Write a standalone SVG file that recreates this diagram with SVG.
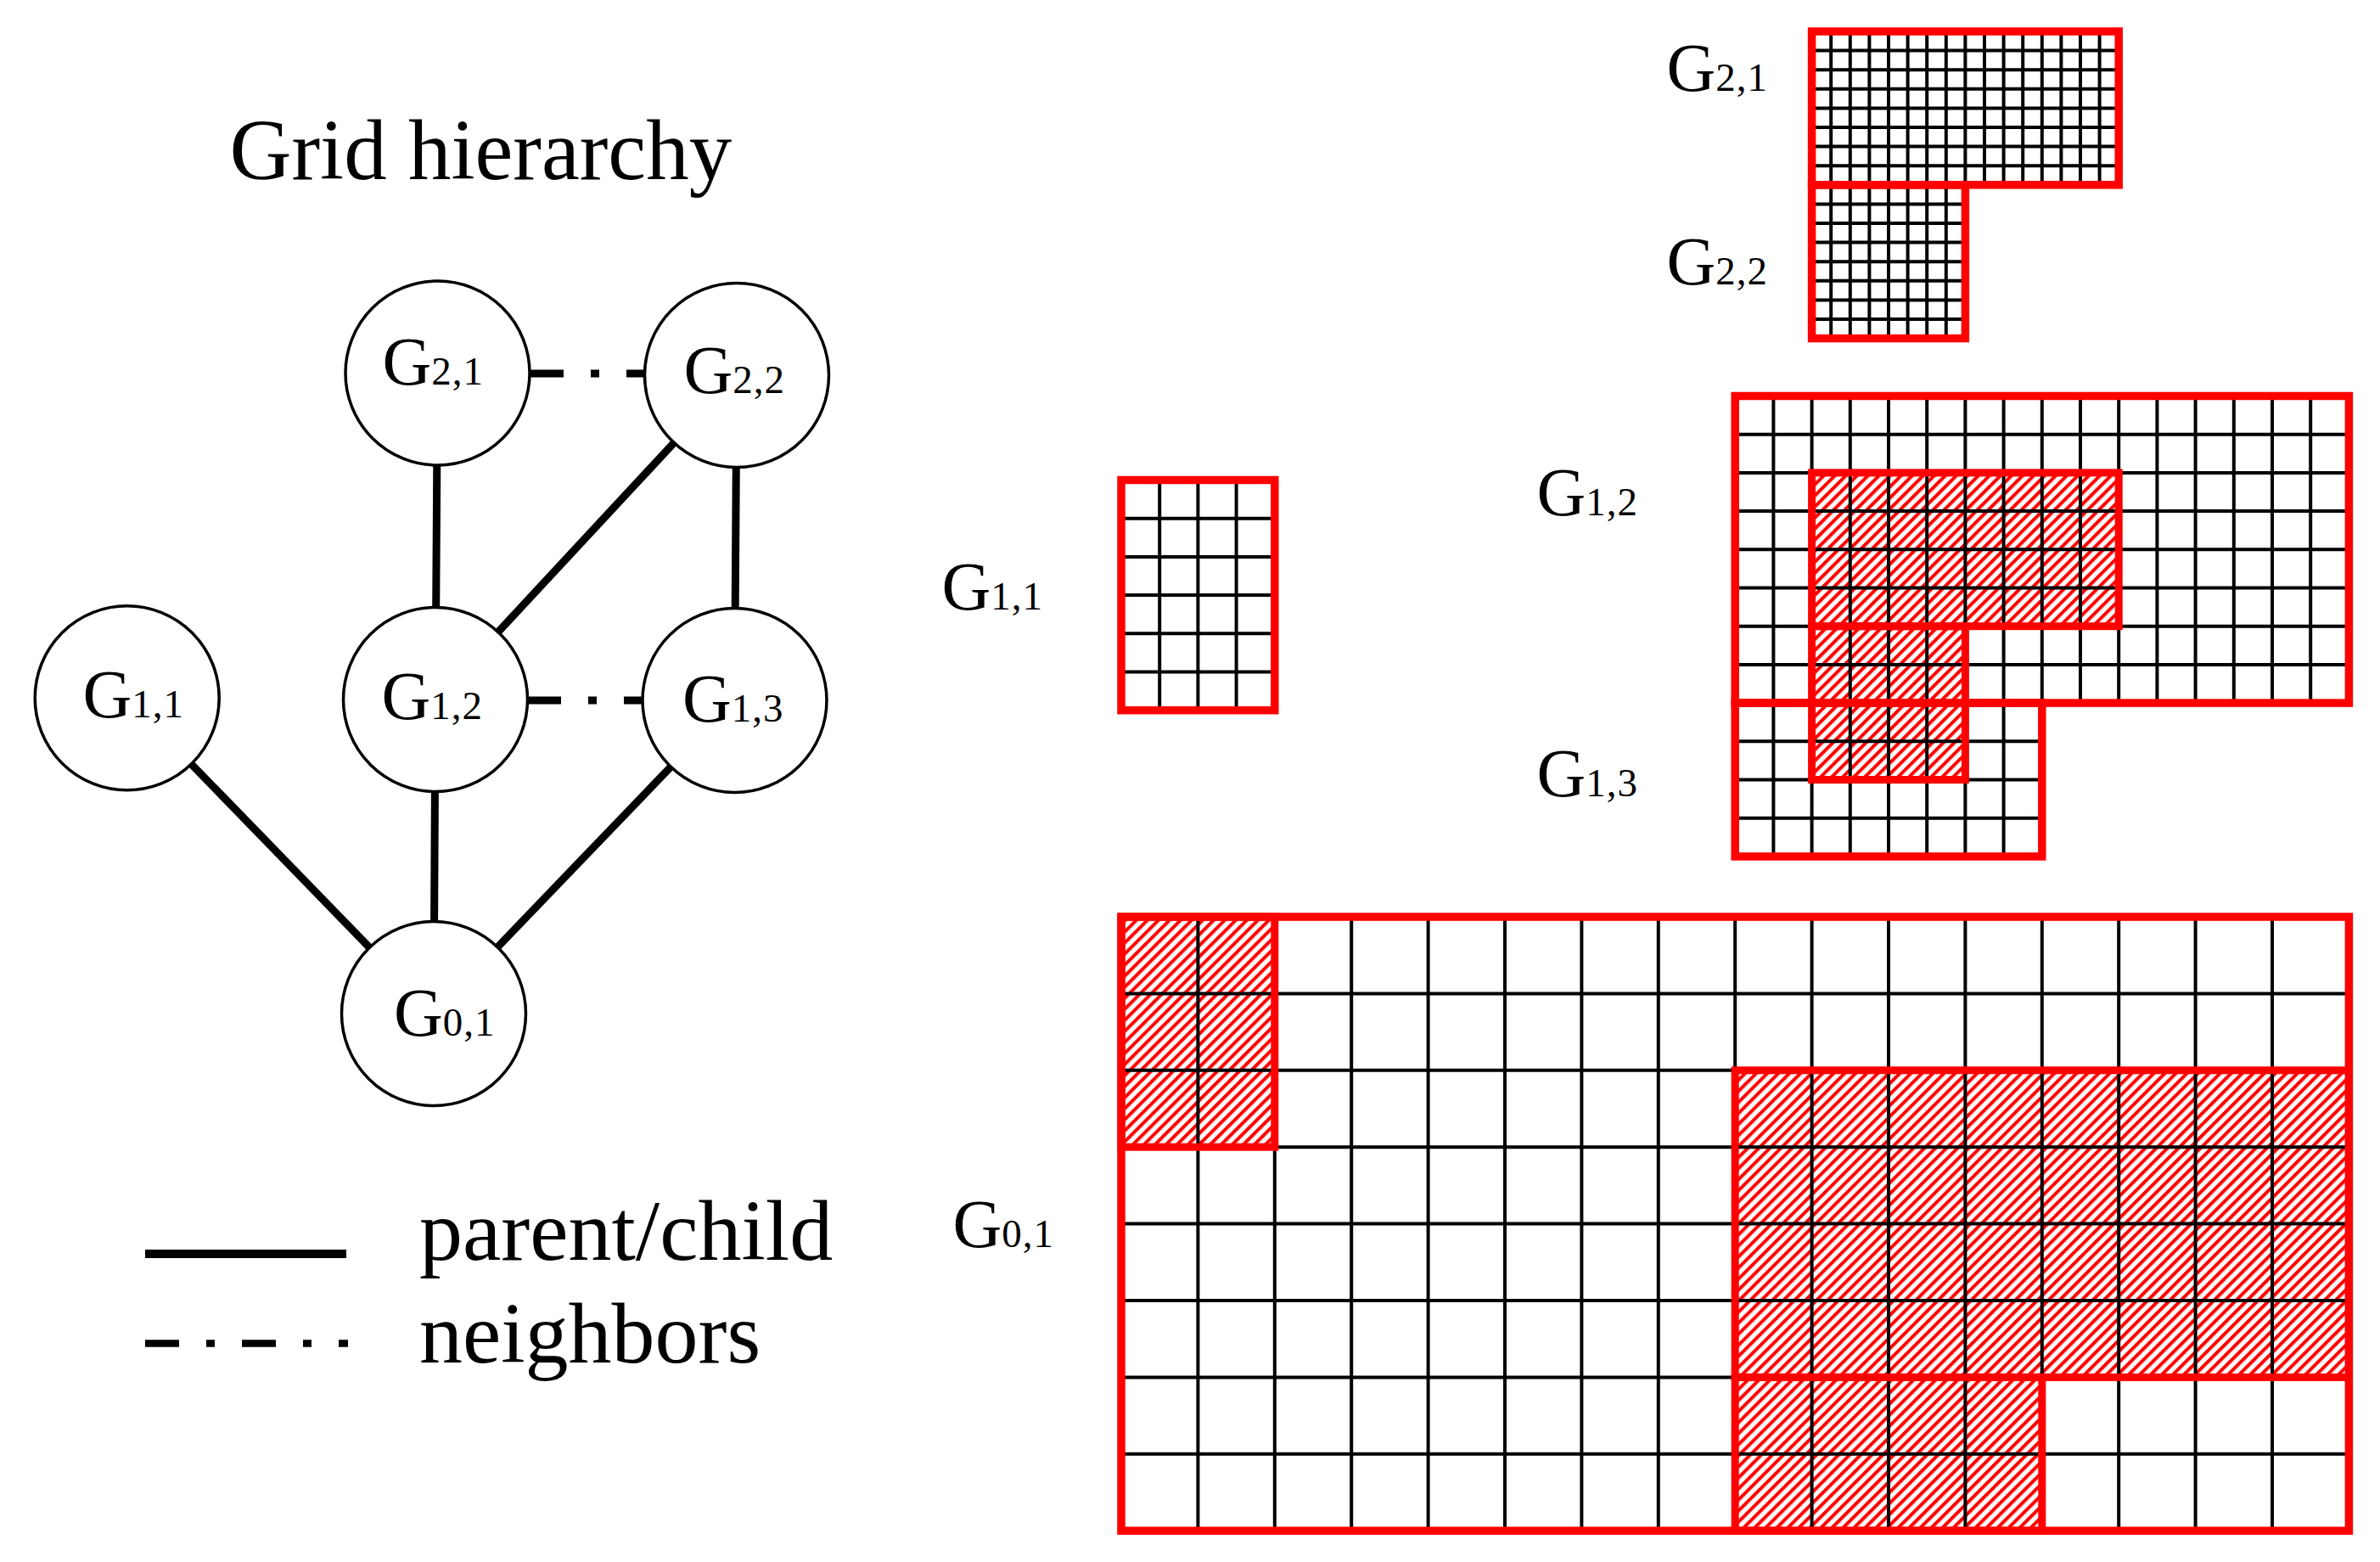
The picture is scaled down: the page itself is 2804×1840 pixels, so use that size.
<svg xmlns="http://www.w3.org/2000/svg" width="2804" height="1840" viewBox="0 0 2804 1840">
<defs>
<pattern id="hatch" patternUnits="userSpaceOnUse" width="9.2" height="9.2" patternTransform="rotate(45)">
<rect x="0" y="0" width="4" height="9.2" fill="#ff0000"/>
</pattern>
<style>
text{font-family:"Liberation Serif","Times New Roman",serif;fill:#000}
.title{font-size:101px}
.legend{font-size:102px}
.lab{font-size:80px}
.sub{font-size:47px;letter-spacing:1px}
.node{fill:#fff;stroke:#000;stroke-width:3.5}
.edge{stroke:#000;stroke-width:9;fill:none}
.nbr{stroke:#000;stroke-width:9;fill:none;stroke-dasharray:40 32 10 32}
.grid{stroke:#000;stroke-width:4;fill:none}
.border{stroke:#ff0000;stroke-width:9.5;fill:none}
.hbox{stroke:#ff0000;stroke-width:9;fill:none}
.hatch{fill:url(#hatch);stroke:none}
</style>
</defs>
<rect width="2804" height="1840" fill="#fff"/>

<text class="title" x="270.5" y="211">Grid hierarchy</text>

<g id="connectors">
<line class="edge" x1="515.5" y1="439.5" x2="513" y2="824"/>
<line class="edge" x1="868" y1="442" x2="513" y2="824"/>
<line class="edge" x1="868" y1="442" x2="865.5" y2="825"/>
<line class="edge" x1="149.7" y1="822.2" x2="511" y2="1194"/>
<line class="edge" x1="513" y1="824" x2="511" y2="1194"/>
<line class="edge" x1="865.5" y1="825" x2="511" y2="1194"/>
<line class="nbr" x1="624" y1="440" x2="760" y2="440"/>
<line class="nbr" x1="621" y1="825" x2="757.5" y2="825"/>
</g>

<g id="node-G21">
<circle class="node" cx="515.5" cy="439.5" r="108.5"/>
<text class="lab" x="450.5" y="453">G<tspan class="sub">2,1</tspan></text>
</g>
<g id="node-G22">
<circle class="node" cx="868" cy="442" r="108.5"/>
<text class="lab" x="805.5" y="463">G<tspan class="sub">2,2</tspan></text>
</g>
<g id="node-G11">
<circle class="node" cx="149.7" cy="822.2" r="108.5"/>
<text class="lab" x="97.5" y="845">G<tspan class="sub">1,1</tspan></text>
</g>
<g id="node-G12">
<circle class="node" cx="513" cy="824" r="108.5"/>
<text class="lab" x="449.5" y="847">G<tspan class="sub">1,2</tspan></text>
</g>
<g id="node-G13">
<circle class="node" cx="865.5" cy="825" r="108.5"/>
<text class="lab" x="804" y="850">G<tspan class="sub">1,3</tspan></text>
</g>
<g id="node-G01">
<circle class="node" cx="511" cy="1194" r="108.5"/>
<text class="lab" x="464" y="1220">G<tspan class="sub">0,1</tspan></text>
</g>

<g id="legend">
<line x1="171" y1="1477" x2="408" y2="1477" stroke="#000" stroke-width="10"/>
<text class="legend" x="494" y="1484">parent/child</text>
<line x1="171" y1="1582.5" x2="410" y2="1582.5" stroke="#000" stroke-width="8.5" stroke-dasharray="40 32 10 32"/>
<text class="legend" x="494" y="1605">neighbors</text>
</g>

<g id="grid-G01">
<text class="lab" x="1122.5" y="1469">G<tspan class="sub">0,1</tspan></text>
<rect class="hatch" x="1321" y="1080" width="180.8" height="271.2"/>
<rect class="hatch" x="2044.2" y="1260.8" width="723.2" height="361.6"/>
<rect class="hatch" x="2044.2" y="1622.4" width="361.6" height="180.8"/>
<path class="grid" d="M1411.4 1080V1803.2M1501.8 1080V1803.2M1592.2 1080V1803.2M1682.6 1080V1803.2M1773 1080V1803.2M1863.4 1080V1803.2M1953.8 1080V1803.2M2044.2 1080V1803.2M2134.6 1080V1803.2M2225 1080V1803.2M2315.4 1080V1803.2M2405.8 1080V1803.2M2496.2 1080V1803.2M2586.6 1080V1803.2M2677 1080V1803.2M1321 1170.4H2767.4M1321 1260.8H2767.4M1321 1351.2H2767.4M1321 1441.6H2767.4M1321 1532H2767.4M1321 1622.4H2767.4M1321 1712.8H2767.4"/>
<rect class="border" x="1321" y="1080" width="1446.4" height="723.2"/>
<rect class="hbox" x="1321" y="1080" width="180.8" height="271.2"/>
<rect class="hbox" x="2044.2" y="1260.8" width="723.2" height="361.6"/>
<rect class="hbox" x="2044.2" y="1622.4" width="361.6" height="180.8"/>
</g>

<g id="grid-G11">
<text class="lab" x="1109.5" y="718">G<tspan class="sub">1,1</tspan></text>
<path class="grid" d="M1366.2 565.5V836.7M1411.4 565.5V836.7M1456.6 565.5V836.7M1321 610.7H1501.8M1321 655.9H1501.8M1321 701.1H1501.8M1321 746.3H1501.8M1321 791.5H1501.8"/>
<rect class="border" x="1321" y="565.5" width="180.8" height="271.2"/>
</g>

<g id="grid-G12">
<text class="lab" x="1810.5" y="607">G<tspan class="sub">1,2</tspan></text>
<rect class="hatch" x="2134.6" y="556.9" width="361.6" height="180.8"/>
<rect class="hatch" x="2134.6" y="737.7" width="180.8" height="180.8"/>
<path class="grid" d="M2089.4 466.5V828.1M2134.6 466.5V828.1M2179.8 466.5V828.1M2225 466.5V828.1M2270.2 466.5V828.1M2315.4 466.5V828.1M2360.6 466.5V828.1M2405.8 466.5V828.1M2451 466.5V828.1M2496.2 466.5V828.1M2541.4 466.5V828.1M2586.6 466.5V828.1M2631.8 466.5V828.1M2677 466.5V828.1M2722.2 466.5V828.1M2044.2 511.7H2767.4M2044.2 556.9H2767.4M2044.2 602.1H2767.4M2044.2 647.3H2767.4M2044.2 692.5H2767.4M2044.2 737.7H2767.4M2044.2 782.9H2767.4"/>
<rect class="border" x="2044.2" y="466.5" width="723.2" height="361.6"/>
</g>

<g id="grid-G13">
<text class="lab" x="1810.5" y="938">G<tspan class="sub">1,3</tspan></text>
<path class="grid" d="M2089.4 828.1V1008.9M2134.6 828.1V1008.9M2179.8 828.1V1008.9M2225 828.1V1008.9M2270.2 828.1V1008.9M2315.4 828.1V1008.9M2360.6 828.1V1008.9M2044.2 873.3H2405.8M2044.2 918.5H2405.8M2044.2 963.7H2405.8"/>
<rect class="border" x="2044.2" y="828.1" width="361.6" height="180.8"/>
</g>

<g id="refined-boxes-level1">
<rect class="hbox" x="2134.6" y="556.9" width="361.6" height="180.8"/>
<rect class="hbox" x="2134.6" y="737.7" width="180.8" height="180.8"/>
</g>

<g id="grid-G21">
<text class="lab" x="1963.5" y="107">G<tspan class="sub">2,1</tspan></text>
<path class="grid" d="M2157.2 37V217.8M2179.8 37V217.8M2202.4 37V217.8M2225 37V217.8M2247.6 37V217.8M2270.2 37V217.8M2292.8 37V217.8M2315.4 37V217.8M2338 37V217.8M2360.6 37V217.8M2383.2 37V217.8M2405.8 37V217.8M2428.4 37V217.8M2451 37V217.8M2473.6 37V217.8M2134.6 59.6H2496.2M2134.6 82.2H2496.2M2134.6 104.8H2496.2M2134.6 127.4H2496.2M2134.6 150H2496.2M2134.6 172.6H2496.2M2134.6 195.2H2496.2"/>
<rect class="border" x="2134.6" y="37" width="361.6" height="180.8"/>
</g>

<g id="grid-G22">
<text class="lab" x="1963.5" y="335">G<tspan class="sub">2,2</tspan></text>
<path class="grid" d="M2157.2 217.8V398.6M2179.8 217.8V398.6M2202.4 217.8V398.6M2225 217.8V398.6M2247.6 217.8V398.6M2270.2 217.8V398.6M2292.8 217.8V398.6M2134.6 240.4H2315.4M2134.6 263H2315.4M2134.6 285.6H2315.4M2134.6 308.2H2315.4M2134.6 330.8H2315.4M2134.6 353.4H2315.4M2134.6 376H2315.4"/>
<rect class="border" x="2134.6" y="217.8" width="180.8" height="180.8"/>
</g>
</svg>
